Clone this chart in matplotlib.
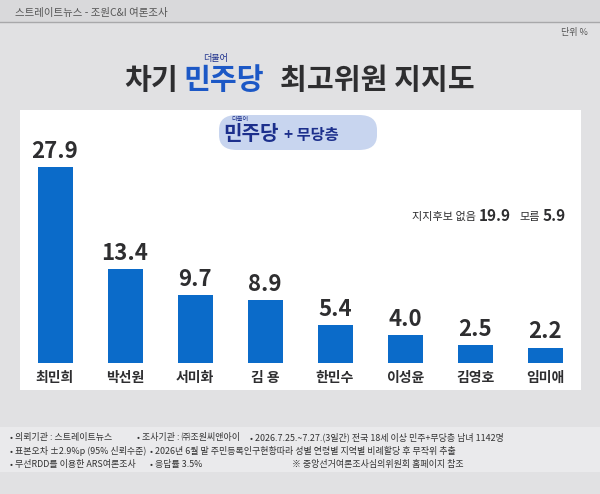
import matplotlib
matplotlib.use('Agg')
import matplotlib.pyplot as plt
from matplotlib.patches import Rectangle, FancyBboxPatch

plt.rcParams['font.family'] = ['Noto Sans CJK KR', 'DejaVu Sans']

# data
names = ["최민희", "박선원", "서미화", "김 용", "한민수", "이성윤", "김영호", "임미애"]
values = [27.9, 13.4, 9.7, 8.9, 5.4, 4.0, 2.5, 2.2]
no_candidate = 19.9
dont_know = 5.9

footer_lines = [
    [(10, "• 의뢰기관 : 스트레이트뉴스"), (137, "• 조사기관 : ㈜조원씨앤아이"),
     (250, "• 2026.7.25.~7.27.(3일간) 전국 18세 이상 민주+무당층 남녀 1142명")],
    [(10, "• 표본오차 ±2.9%p (95% 신뢰수준)"),
     (150, "• 2026년 6월 말 주민등록인구현황따라 성별 연령별 지역별 비례할당 후 무작위 추출")],
    [(10, "• 무선RDD를 이용한 ARS여론조사"), (150, "• 응답률 3.5%"),
     (292, "※ 중앙선거여론조사심의위원회 홈페이지 참조")],
]

W, H = 600, 494
BG = '#e1e1e3'
BAR = '#0b6bc9'
DARK = '#2e2e30'
NAVY = '#1c2f8c'
BLUE = '#1c58c6'

fig = plt.figure(figsize=(W / 100, H / 100), dpi=100, facecolor=BG)


def fx(px):
    return px / W


def fy(py):
    return 1 - py / H


# header band + rule
fig.patches.append(Rectangle((0, fy(22)), 1, 22 / H, transform=fig.transFigure,
                             facecolor='#d9d9db', edgecolor='none', zorder=0))
fig.lines.append(plt.Line2D([0, 1], [fy(22), fy(22)], transform=fig.transFigure,
                            color='#a8a8aa', lw=1.0))
fig.text(fx(15), fy(13), "스트레이트뉴스 - 조원C&I 여론조사", fontsize=7.5,
         color='#555555', va='center', ha='left')
fig.text(fx(588), fy(33), "단위 %", fontsize=6.5, color='#555555', va='center', ha='right')

# title
ty = fy(80)
fig.text(fx(178), ty, "차기", fontsize=21, fontweight='black', color=DARK,
         va='center', ha='right')
fig.text(fx(183), ty, "민주당", fontsize=21, fontweight='black', color=BLUE,
         va='center', ha='left')
fig.text(fx(215), fy(59), "더불어", fontsize=6.5, color=NAVY, va='center', ha='center',
         style='italic')
fig.text(fx(280), ty, "최고위원 지지도", fontsize=21, fontweight='black', color=DARK,
         va='center', ha='left')

# white panel
fig.patches.append(Rectangle((fx(20), fy(390)), 561 / W, 280 / H, transform=fig.transFigure,
                             facecolor='white', edgecolor='none', zorder=0))

# footer band
fig.patches.append(Rectangle((0, fy(472)), 1, 45 / H, transform=fig.transFigure,
                             facecolor='#eaeaec', edgecolor='none', zorder=0))
for row, items in enumerate(footer_lines):
    for x, txt in items:
        fig.text(fx(x), fy(437 + 14 * row), txt, fontsize=6.45, color='#333333',
                 va='center', ha='left')

# pill label
pill = FancyBboxPatch((fx(219), fy(150)), fx(158), 35 / H,
                      boxstyle="round,pad=0,rounding_size=0.03",
                      transform=fig.transFigure, facecolor='#c8d5ef',
                      edgecolor='none', zorder=1)
fig.patches.append(pill)
fig.text(fx(223), fy(134), "민주당", fontsize=14.5, fontweight='black', color=NAVY,
         va='center', ha='left', zorder=2)
fig.text(fx(284), fy(135), "+ 무당층", fontsize=11, fontweight='black', color=NAVY,
         va='center', ha='left', zorder=2)
fig.text(fx(240), fy(119), "더불어", fontsize=4.5, color=NAVY, va='center', ha='center',
         style='italic', zorder=2)

# side note
fig.text(fx(412), fy(217), "지지후보 없음", fontsize=8, color=DARK, va='center', ha='left')
fig.text(fx(479), fy(216), f"{no_candidate}", fontsize=11, fontweight='bold', color=DARK,
         va='center', ha='left')
fig.text(fx(519), fy(217), "모름", fontsize=8, color=DARK, va='center', ha='left')
fig.text(fx(543), fy(216), f"{dont_know}", fontsize=11, fontweight='bold', color=DARK,
         va='center', ha='left')

# bar chart axes: value 0 at y=363px, 7.03 px per unit
bottom_px, top_px = 363, 110
ax = fig.add_axes([fx(20), fy(bottom_px), 560 / W, (bottom_px - top_px) / H], zorder=3)
ax.set_xlim(-0.5, len(names) - 0.5)
ax.set_ylim(0, (bottom_px - top_px) / 7.03)
ax.axis('off')
ax.patch.set_alpha(0)

x = range(len(names))
ax.bar(x, values, width=0.5, color=BAR, edgecolor='none')
for i, (n, v) in enumerate(zip(names, values)):
    ax.text(i, v + 0.6, f"{v:.1f}", ha='center', va='bottom', fontsize=16,
            fontweight='bold', color=DARK)
    ax.text(i, -2.1, n, ha='center', va='center', fontsize=10, fontweight='bold',
            color=DARK, clip_on=False)

fig.savefig("out.png", dpi=100, facecolor=BG)
